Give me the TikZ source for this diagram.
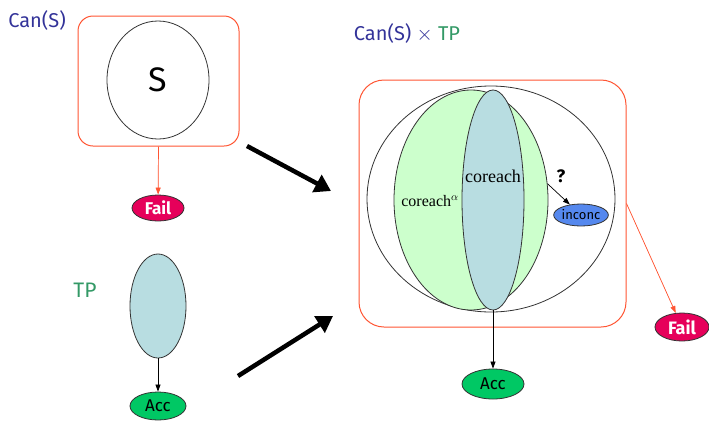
\documentclass[tikz,border=0pt]{standalone}
\usepackage{fontspec}
\setmainfont{Liberation Serif}
\newfontfamily\hand{Fira Sans}
\usetikzlibrary{shapes.geometric,arrows.meta}
\definecolor{boxred}{RGB}{255,85,51}
\definecolor{failred}{RGB}{230,0,90}
\definecolor{accgreen}{RGB}{0,200,100}
\definecolor{inkblue}{RGB}{51,51,153}
\definecolor{tpgreen}{RGB}{51,153,102}
\definecolor{alphagreen}{RGB}{204,255,204}
\definecolor{coreblue}{RGB}{184,221,225}
\definecolor{inconcblue}{RGB}{85,136,238}
\newcommand{\fs}[1]{\fontsize{#1}{#1}\selectfont}

\begin{document}
\begin{tikzpicture}[x=1pt,y=-1pt,
  frame/.style={draw=boxred,line width=1pt},
  region/.style={draw=black!80,ellipse,line width=0.8pt,inner sep=0pt},
  state/.style={region,font=\hand\fs{17}},
  link/.style={-{Triangle[length=7pt,width=5pt]},line width=0.7pt},
  bigarrow/.style={-{Triangle[length=16pt,width=19pt]},line width=4.5pt}]
\useasboundingbox (0,0) rectangle (709,421);

%titles
\node[text=inkblue,font=\hand\fs{20}] (cantitle) at (37,20) {Can(S)};
\node[text=tpgreen,font=\hand\fs{21}] (tptitle) at (85,290) {TP};
\node[font=\hand\fs{20}] (prodtitle) at (407,33)
  {\textcolor{inkblue}{Can(S)} \textcolor{inkblue}{$\times$} \textcolor{tpgreen}{TP}};

%Can(S)
\node[frame,rounded corners=15pt,minimum width=161pt,minimum height=130pt] (can) at (158.5,81) {};
\node[region,minimum width=102pt,minimum height=118pt,font=\hand\fs{34}] (s) at (158,80) {S};
\node[state,fill=failred,text=white,font=\hand\bfseries\fs{17},minimum width=52pt,minimum height=26pt] (fail1) at (158,208) {Fail};
\draw[link,draw=boxred,fill=boxred] (can.south) -- (fail1);

%TP
\node[region,fill=coreblue,minimum width=56pt,minimum height=104pt] (tp) at (158,306) {};
\node[state,fill=accgreen,minimum width=56pt,minimum height=28pt] (acc1) at (158,406) {Acc};
\draw[link] (tp.south) -- (acc1);

%product
\node[frame,rounded corners=25pt,minimum width=267pt,minimum height=247pt] (prod) at (492.5,203.5) {};
\node[region,minimum width=248pt,minimum height=226pt] (outer) at (491,199) {};
\node[region,fill=alphagreen,minimum width=154pt,minimum height=220pt] (alpha) at (471,200) {};
\node[region,fill=coreblue,minimum width=62pt,minimum height=220pt] (core) at (493,200) {};
\node[font=\fs{18}] (corelabel) at (493,176) {coreach};
\node[font=\fs{16}] (alphalabel) at (430,201) {coreach$^\alpha$};
\node[font=\hand\bfseries\fs{18}] (ask) at (561,176) {?};
\node[state,fill=inconcblue,font=\hand\fs{13},minimum width=54pt,minimum height=22pt] (inconc) at (581,215) {inconc};
\draw[link] (alpha.12) -- (inconc);
\node[state,fill=accgreen,minimum width=62pt,minimum height=30pt] (acc2) at (493,384) {Acc};
\draw[link] (core.south) -- (acc2);
\node[state,fill=failred,text=white,font=\hand\bfseries\fs{18},minimum width=54pt,minimum height=28pt] (fail2) at (682,327) {Fail};
\draw[link,draw=boxred,fill=boxred] (prod.east) -- (fail2);

%big arrows
\coordinate (a1) at (247,146);
\coordinate (b1) at (331,191);
\coordinate (a2) at (238,376);
\coordinate (b2) at (333,316);
\draw[bigarrow] (a1) -- (b1);
\draw[bigarrow] (a2) -- (b2);
\end{tikzpicture}
\end{document}
